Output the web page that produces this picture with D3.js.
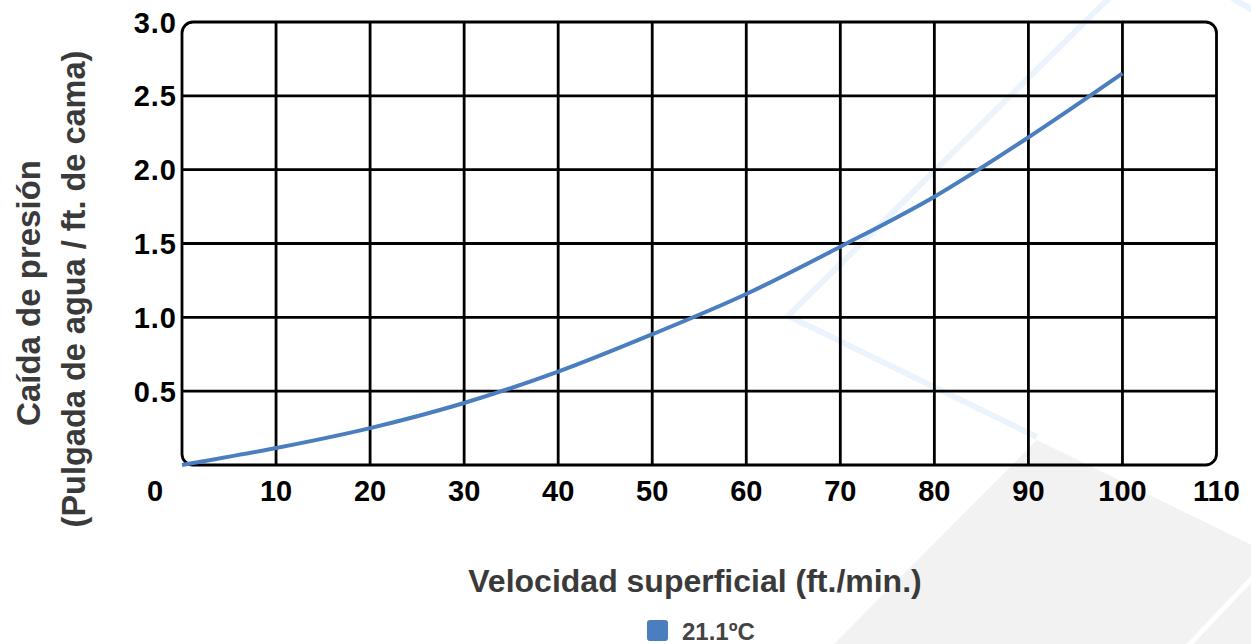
<!DOCTYPE html>
<html>
<head>
<meta charset="utf-8">
<script src="https://cdn.jsdelivr.net/npm/d3@7"></script>
<style>
  html, body { margin: 0; padding: 0; background: #ffffff; }
  svg { display: block; }
  text { font-family: "Liberation Sans", Arial, Helvetica, sans-serif; font-weight: bold; }
</style>
</head>
<body>
<svg id="chart" width="1251" height="644"></svg>
<script>
// ---- data ----
const velocity = [0, 10, 20, 30, 40, 50, 60, 70, 80, 90, 100];
const pressureDrop = [0, 0.115, 0.25, 0.42, 0.632, 0.885, 1.158, 1.478, 1.817, 2.219, 2.652];
const xTicks = [0, 10, 20, 30, 40, 50, 60, 70, 80, 90, 100, 110];
const yTicks = [0.5, 1.0, 1.5, 2.0, 2.5, 3.0];
const seriesName = "21.1ºC";
const xTitle = "Velocidad superficial (ft./min.)";
const yTitle1 = "Caída de presión";
const yTitle2 = "(Pulgada de agua / ft. de cama)";

(function () {
const svg = d3.select("#chart");
const plotL = 182, plotR = 1216.5, plotT = 22, plotB = 465;

const x = d3.scaleLinear().domain([0, 110]).range([plotL, plotR]);
const y = d3.scaleLinear().domain([0, 3]).range([plotB, plotT]);

// ---- background watermark ----
const bg = svg.append("g");
bg.append("polygon")
  .attr("points", [[1037, 440], [1260, 549], [1260, 650], [828, 650]].map(p => p.join(",")).join(" "))
  .attr("fill", "#f2f2f2");
bg.append("line").attr("x1", 1256).attr("y1", 574).attr("x2", 1186).attr("y2", 648)
  .attr("stroke", "#ffffff").attr("stroke-width", 5);
bg.append("polyline")
  .attr("points", [[1110, -3], [788, 316], [1037, 437]].map(p => p.join(",")).join(" "))
  .attr("fill", "none").attr("stroke", "#ebf4fd").attr("stroke-width", 6);
bg.append("line").attr("x1", 1232).attr("y1", -2).attr("x2", 1256).attr("y2", 12)
  .attr("stroke", "#ebf4fd").attr("stroke-width", 6);

// ---- grid ----
const grid = svg.append("g");
grid.selectAll("line.v").data(xTicks.filter(d => d > 0 && d < 110)).enter().append("line")
  .attr("x1", d => x(d)).attr("x2", d => x(d))
  .attr("y1", y(3)).attr("y2", y(0))
  .attr("stroke", "#000").attr("stroke-width", 2.8);
grid.selectAll("line.h").data(yTicks.filter(d => d < 3)).enter().append("line")
  .attr("x1", x(0)).attr("x2", x(110))
  .attr("y1", d => y(d)).attr("y2", d => y(d))
  .attr("stroke", "#000").attr("stroke-width", 2.8);

// frame
svg.append("rect")
  .attr("x", x(0)).attr("y", y(3))
  .attr("width", x(110) - x(0)).attr("height", y(0) - y(3))
  .attr("rx", 11).attr("ry", 11)
  .attr("fill", "none").attr("stroke", "#000").attr("stroke-width", 2.8);

// ---- tick labels ----
svg.append("g").selectAll("text").data(xTicks).enter().append("text")
  .attr("x", d => d === 0 ? x(d) - 27 : x(d))
  .attr("y", 501)
  .attr("text-anchor", "middle")
  .attr("font-size", 29)
  .attr("fill", "#000")
  .text(d => d);

svg.append("g").selectAll("text").data(yTicks).enter().append("text")
  .attr("x", 177)
  .attr("y", d => y(d) + 10.5)
  .attr("text-anchor", "end")
  .attr("font-size", 29)
  .attr("letter-spacing", 1)
  .attr("fill", "#000")
  .text(d => d.toFixed(1));

// ---- line ----
const pts = velocity.map((v, i) => [v, pressureDrop[i]]);
svg.append("path")
  .datum(pts)
  .attr("d", d3.line().x(d => x(d[0])).y(d => y(d[1])).curve(d3.curveMonotoneX))
  .attr("fill", "none")
  .attr("stroke", "#4a7ebf")
  .attr("stroke-width", 4);

// ---- axis titles ----
svg.append("text")
  .attr("x", 695).attr("y", 592)
  .attr("text-anchor", "middle")
  .attr("font-size", 32)
  .attr("fill", "#3a3a3a")
  .text(xTitle);

svg.append("text")
  .attr("transform", "translate(40,293) rotate(-90)")
  .attr("text-anchor", "middle")
  .attr("font-size", 33)
  .attr("fill", "#3a3a3a")
  .text(yTitle1);
svg.append("text")
  .attr("transform", "translate(85,289) rotate(-90)")
  .attr("text-anchor", "middle")
  .attr("font-size", 32.5)
  .attr("fill", "#3a3a3a")
  .text(yTitle2);

// ---- legend ----
const lg = svg.append("g");
lg.append("rect").attr("x", 647).attr("y", 620).attr("width", 21).attr("height", 21)
  .attr("rx", 3).attr("fill", "#4a7ebf");
lg.append("text").attr("x", 682).attr("y", 640)
  .attr("font-size", 24).attr("fill", "#444")
  .text(seriesName);
})();
</script>
</body>
</html>
